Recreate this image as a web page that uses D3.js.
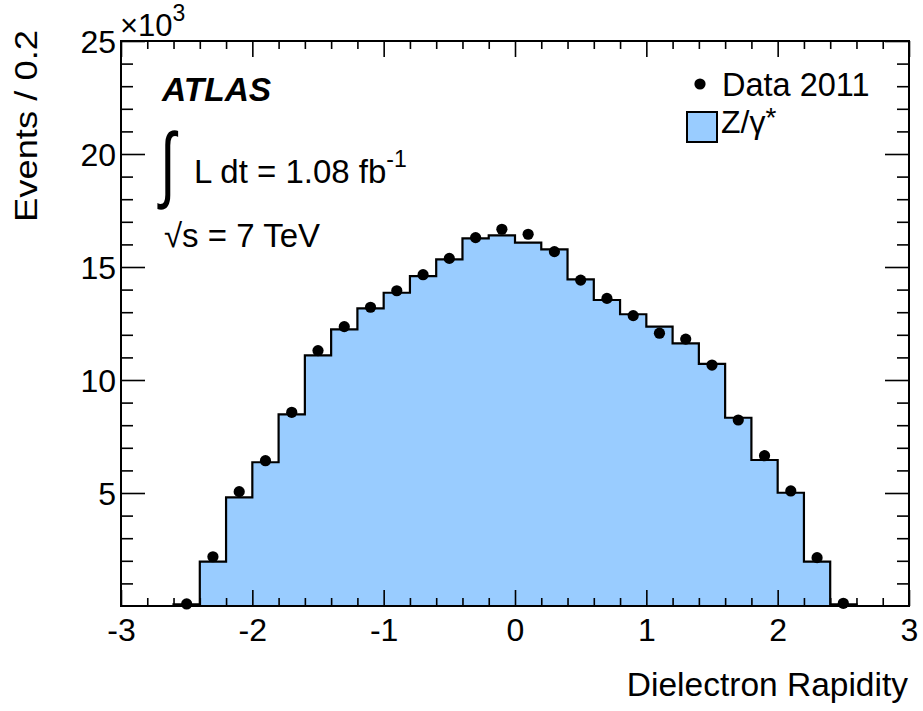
<!DOCTYPE html>
<html>
<head>
<meta charset="utf-8">
<script src="https://cdn.jsdelivr.net/npm/d3@7"></script>
<style>
html,body{margin:0;padding:0;background:#fff;}
svg{display:block;}
text{font-family:"Liberation Sans",Arial,Helvetica,sans-serif;fill:#000;}
</style>
</head>
<body>
<svg id="chart" width="923" height="711"></svg>
<script>
// Bin edges (rapidity), width 0.2
const binStarts = [-2.6,-2.4,-2.2,-2.0,-1.8,-1.6,-1.4,-1.2,-1.0,-0.8,-0.6,-0.4,-0.2,0.0,0.2,0.4,0.6,0.8,1.0,1.2,1.4,1.6,1.8,2.0,2.2,2.4];
const binWidth = 0.2;
// Z/gamma* MC expectation (events / 0.2)
const mcValues = [70,1960,4810,6360,8480,11090,12240,13170,13860,14600,15340,16270,16400,16080,15780,14450,13540,12910,12360,11620,10710,8330,6460,5010,1960,70];
// Data 2011 (events / 0.2) at bin centres
const dataValues = [90,2180,5060,6430,8570,11300,12360,13220,13950,14660,15380,16300,16670,16450,15680,14420,13610,12850,12070,11810,10660,8230,6650,5090,2140,120];
const xTicks = [-3,-2,-1,0,1,2,3];
const yTicks = [5000,10000,15000,20000,25000];
const yTickLabels = ["5","10","15","20","25"];

const svg = d3.select("#chart");
const L = 121, R = 909, T = 41, B = 606;
const x = d3.scaleLinear().domain([-3,3]).range([L,R]);
const y = d3.scaleLinear().domain([0,25000]).range([B,T]);

// histogram step points
const pts = [{x:-3,v:0}];
binStarts.forEach((s,i)=>{ pts.push({x:s,v:mcValues[i]}); });
pts.push({x:binStarts[binStarts.length-1]+binWidth,v:0});
pts.push({x:3,v:0});

const area = d3.area().curve(d3.curveStepAfter).x(d=>x(d.x)).y0(y(0)).y1(d=>y(d.v));
const line = d3.line().curve(d3.curveStepAfter).x(d=>x(d.x)).y(d=>y(d.v));
svg.append("path").datum(pts).attr("d",area).attr("fill","#99ccff");
svg.append("path").datum(pts).attr("d",line).attr("fill","none").attr("stroke","#000").attr("stroke-width",2.2);

// data points
svg.append("g").selectAll("circle").data(dataValues).join("circle")
  .attr("cx",(d,i)=>x(binStarts[i]+binWidth/2)).attr("cy",d=>y(d)).attr("r",5.6).attr("fill","#000");

// axes
const minorX = d3.range(-30,31,2).map(v=>v/10).filter(v=>!xTicks.includes(v));
const minorY = d3.range(1000,25000,1000).filter(v=>v%5000!==0);
function styleAxis(g){ g.select(".domain").remove(); g.selectAll(".tick line").attr("stroke","#000").attr("stroke-width",1.6); }

svg.append("g").attr("transform",`translate(0,${B})`).call(d3.axisBottom(x).tickValues(xTicks).tickSize(-16).tickPadding(0).tickFormat(d=>d3.format("d")(d).replace("−","-"))).call(styleAxis)
  .selectAll("text").attr("font-size",32).attr("dy","0").attr("y",35);
svg.append("g").attr("transform",`translate(0,${B})`).call(d3.axisBottom(x).tickValues(minorX).tickSize(-8).tickFormat("")).call(styleAxis);
svg.append("g").attr("transform",`translate(0,${T})`).call(d3.axisTop(x).tickValues(xTicks).tickSize(-16).tickFormat("")).call(styleAxis);
svg.append("g").attr("transform",`translate(0,${T})`).call(d3.axisTop(x).tickValues(minorX).tickSize(-8).tickFormat("")).call(styleAxis);

svg.append("g").attr("transform",`translate(${L},0)`).call(d3.axisLeft(y).tickValues(yTicks).tickSize(-24).tickPadding(6).tickFormat((d,i)=>yTickLabels[i])).call(styleAxis)
  .selectAll("text").attr("font-size",32).attr("x",-5).attr("dy","0.36em");
svg.append("g").attr("transform",`translate(${L},0)`).call(d3.axisLeft(y).tickValues(minorY).tickSize(-12).tickFormat("")).call(styleAxis);
svg.append("g").attr("transform",`translate(${R},0)`).call(d3.axisRight(y).tickValues(yTicks).tickSize(-24).tickFormat("")).call(styleAxis);
svg.append("g").attr("transform",`translate(${R},0)`).call(d3.axisRight(y).tickValues(minorY).tickSize(-12).tickFormat("")).call(styleAxis);

// frame
svg.append("rect").attr("x",L).attr("y",T).attr("width",R-L).attr("height",B-T).attr("fill","none").attr("stroke","#000").attr("stroke-width",2);

// x10^3
const exp = svg.append("text").attr("x",120).attr("y",36).attr("font-size",31);
exp.append("tspan").text("×10");
exp.append("tspan").attr("dy",-15).attr("font-size",23).text("3");

// axis titles
svg.append("text").attr("x",908).attr("y",696).attr("text-anchor","end").attr("font-size",33.5).text("Dielectron Rapidity");
svg.append("text").attr("transform","translate(37,222) rotate(-90)").attr("text-anchor","start").attr("font-size",31)
  .attr("textLength",192).attr("lengthAdjust","spacingAndGlyphs").text("Events / 0.2");

// ATLAS labels
svg.append("text").attr("x",162).attr("y",101).attr("font-size",33.5).attr("font-weight","bold").attr("font-style","italic").text("ATLAS");
svg.append("text").attr("transform","translate(160,192) scale(0.8,1.2)").attr("font-size",70).attr("font-family","DejaVu Serif").text("∫");
const lum = svg.append("text").attr("x",194).attr("y",183).attr("font-size",33);
lum.append("tspan").text("L dt = 1.08 fb");
lum.append("tspan").attr("dy",-16).attr("font-size",23).text("-1");
const sq = svg.append("text").attr("x",164).attr("y",247).attr("font-size",33);
sq.append("tspan").text("√s = 7 TeV");

// legend
svg.append("circle").attr("cx",700).attr("cy",84).attr("r",5.6).attr("fill","#000");
svg.append("text").attr("x",722).attr("y",96).attr("font-size",32.5).text("Data 2011");
svg.append("rect").attr("x",687).attr("y",112).attr("width",30).attr("height",30).attr("fill","#99ccff").attr("stroke","#000").attr("stroke-width",2);
const zl = svg.append("text").attr("x",721).attr("y",133).attr("font-size",32);
zl.append("tspan").text("Z/γ");
zl.append("tspan").attr("dy",-6).attr("font-size",28).text("*");
</script>
</body>
</html>
